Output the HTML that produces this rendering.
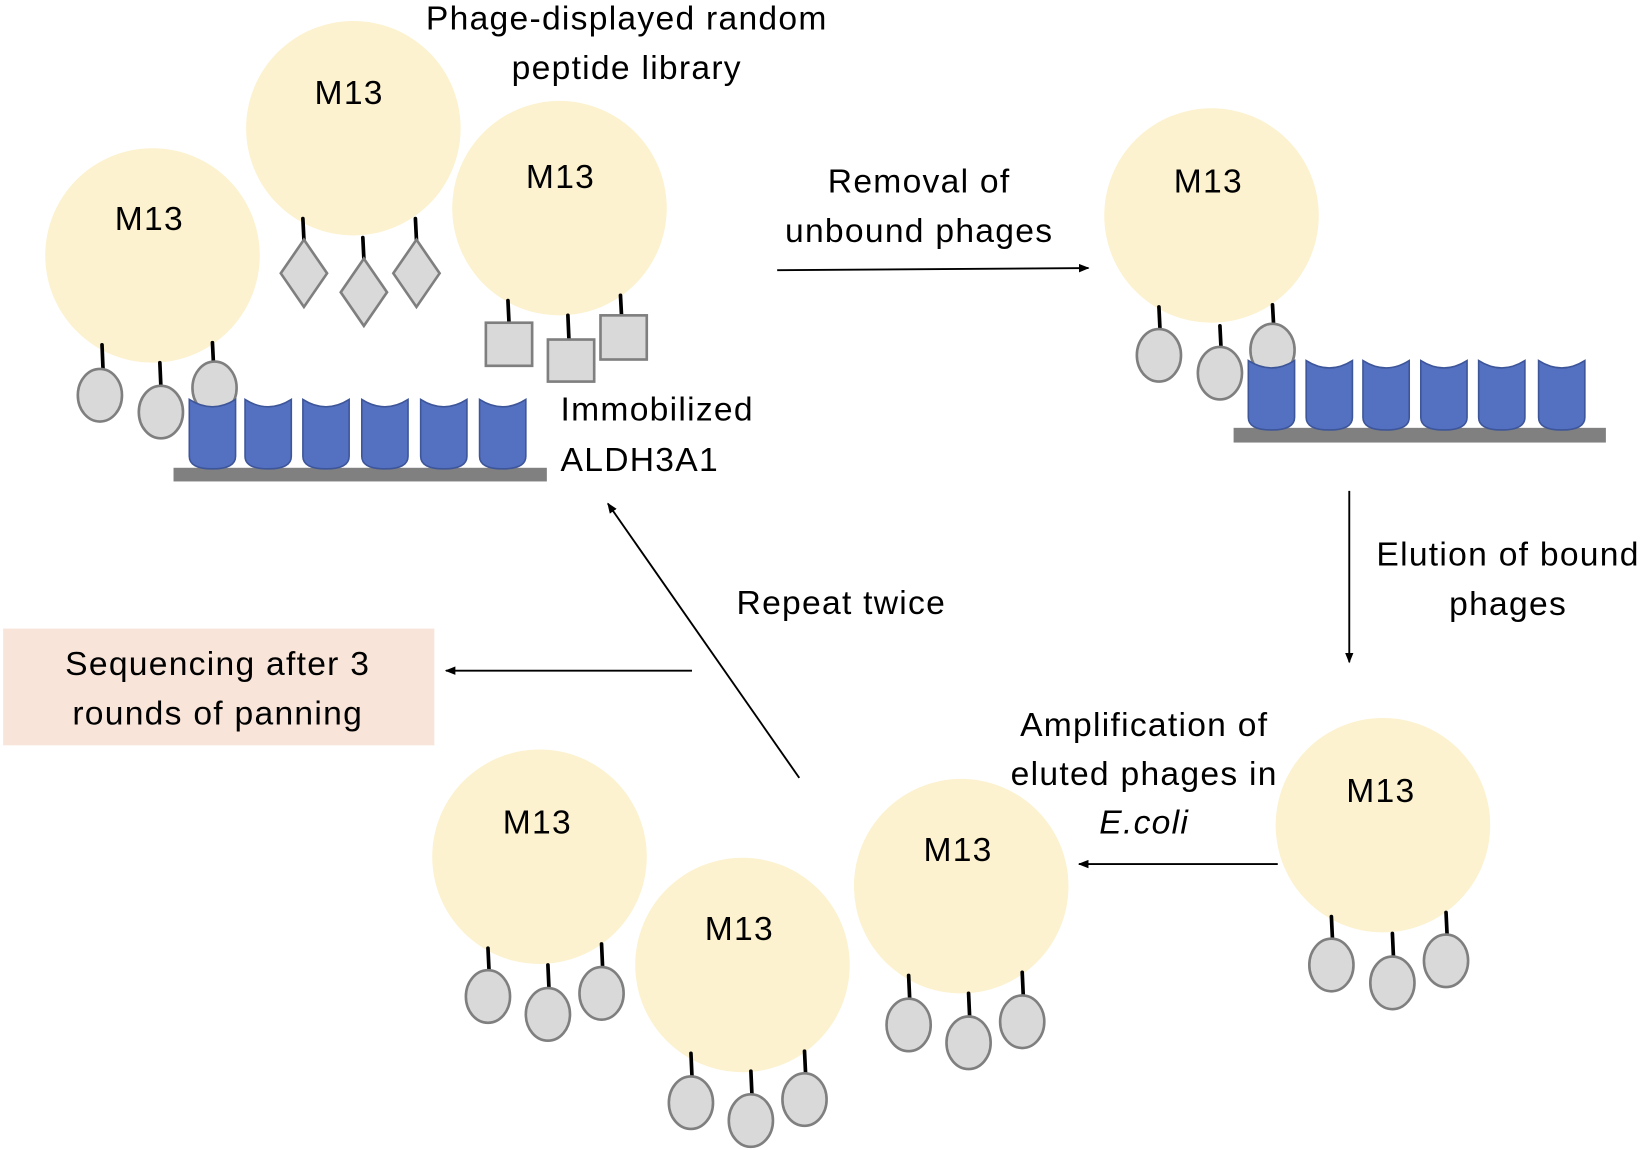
<!DOCTYPE html>
<html><head><meta charset="utf-8"><style>
html,body{margin:0;padding:0;background:#fff;}
svg{display:block}
text{font-family:"Liberation Sans",sans-serif;font-size:32px;letter-spacing:1.2px;fill:#000;text-anchor:middle}
</style></head><body>
<svg width="1649" height="1150" viewBox="0 0 1568 1094" preserveAspectRatio="none" xmlns="http://www.w3.org/2000/svg">
<defs>
<marker id="ar" markerWidth="10" markerHeight="8" refX="9" refY="4" orient="auto" markerUnits="userSpaceOnUse">
<path d="M0,0 L10,4 L0,8 Z" fill="#000"/></marker>
<symbol id="cup" overflow="visible"><path d="M0,0 Q22,14 44,0 L44,54 Q44,66 22,66 Q0,66 0,54 Z" fill="#5470c1" stroke="#3d5599" stroke-width="1.5"/></symbol>
</defs>
<g fill="#fcf2cf">
<circle cx="145" cy="243" r="102"/><circle cx="336" cy="122" r="102"/><circle cx="532" cy="198" r="102"/>
<circle cx="1152" cy="205" r="102"/><circle cx="1315" cy="785" r="102"/><circle cx="914" cy="843" r="102"/>
<circle cx="513" cy="815" r="102"/><circle cx="706" cy="918" r="102"/>
</g>
<text x="142" y="219">M13</text><text x="332" y="99">M13</text><text x="533" y="179">M13</text>
<text x="1149" y="183">M13</text><text x="1313" y="763">M13</text><text x="911" y="819">M13</text>
<text x="511" y="793">M13</text><text x="703" y="894">M13</text>
<g stroke="#000" stroke-width="3.5" stroke-linecap="round" fill="none">
<path d="M97,328 L98,352 M152,345 L153,368 M202,326 L203,346"/>
<path d="M288,208 L289,228 M345,226 L346,246 M395,208 L396,228"/>
<path d="M483,286 L484,307 M540,300 L541,323 M590,281 L591,300"/>
<path d="M1102,292 L1103,313 M1160,310 L1161,330 M1210,290 L1211,308"/>
<path d="M1266,872 L1267,893 M1324,888 L1325,910 M1375,868 L1376,889"/>
<path d="M864,928 L865,950 M921,945 L922,967 M972,925 L973,947"/>
<path d="M464,902 L465,923 M521,918 L522,940 M572,898 L573,920"/>
<path d="M657,1002 L658,1024 M714,1019 L715,1041 M765,1000 L766,1021"/>
</g>
<rect x="165" y="445" width="355" height="13" fill="#808080"/>
<rect x="1173" y="407" width="354" height="14" fill="#808080"/>
<g fill="#d9d9d9" stroke="#7f7f7f" stroke-width="2.5">
<ellipse cx="95" cy="376" rx="21" ry="25"/><ellipse cx="153" cy="392" rx="21" ry="25"/><ellipse cx="204" cy="369" rx="21" ry="25"/>
<ellipse cx="1102" cy="338" rx="21" ry="25"/><ellipse cx="1160" cy="355" rx="21" ry="25"/><ellipse cx="1210" cy="333" rx="21" ry="25"/>
<ellipse cx="1266" cy="918" rx="21" ry="25"/><ellipse cx="1324" cy="935" rx="21" ry="25"/><ellipse cx="1375" cy="914" rx="21" ry="25"/>
<ellipse cx="864" cy="975" rx="21" ry="25"/><ellipse cx="921" cy="992" rx="21" ry="25"/><ellipse cx="972" cy="972" rx="21" ry="25"/>
<ellipse cx="464" cy="948" rx="21" ry="25"/><ellipse cx="521" cy="965" rx="21" ry="25"/><ellipse cx="572" cy="945" rx="21" ry="25"/>
<ellipse cx="657" cy="1049" rx="21" ry="25"/><ellipse cx="714" cy="1066" rx="21" ry="25"/><ellipse cx="765" cy="1046" rx="21" ry="25"/>
<path d="M289,228 L311,260 L289,292 L267,260 Z"/><path d="M346,246 L368,278 L346,310 L324,278 Z"/><path d="M396,228 L418,260 L396,292 L374,260 Z"/>
<rect x="462" y="307" width="44" height="41"/><rect x="521" y="323" width="44" height="40"/><rect x="571" y="300" width="44" height="42"/>
</g>
<g>
<use href="#cup" x="180" y="380"/><use href="#cup" x="233" y="380"/><use href="#cup" x="288" y="380"/>
<use href="#cup" x="344" y="380"/><use href="#cup" x="400" y="380"/><use href="#cup" x="456" y="380"/>
<use href="#cup" x="1187" y="343"/><use href="#cup" x="1242" y="343"/><use href="#cup" x="1296" y="343"/>
<use href="#cup" x="1351" y="343"/><use href="#cup" x="1406" y="343"/><use href="#cup" x="1463" y="343"/>
</g>
<g stroke="#000" stroke-width="1.8" marker-end="url(#ar)">
<line x1="739" y1="257" x2="1035" y2="255"/>
<line x1="1283" y1="467" x2="1283" y2="630"/>
<line x1="1215" y1="822" x2="1026" y2="822"/>
<line x1="760" y1="740" x2="578" y2="479"/>
<line x1="658" y1="638" x2="424" y2="638"/>
</g>
<rect x="3" y="598" width="410" height="111" fill="#f8e4d8"/>
<text x="207" y="642">Sequencing after 3</text><text x="207" y="689">rounds of panning</text>
<text x="596" y="28">Phage-displayed random</text><text x="596" y="75">peptide library</text>
<text x="874" y="183">Removal of</text><text x="874" y="230">unbound phages</text>
<text x="533" y="400" style="text-anchor:start">Immobilized</text><text x="533" y="448" style="text-anchor:start">ALDH3A1</text>
<text x="1434" y="538">Elution of bound</text><text x="1434" y="585">phages</text>
<text x="1088" y="700">Amplification of</text><text x="1088" y="747">eluted phages in</text><text x="1088" y="793" font-style="italic">E.coli</text>
<text x="800" y="584">Repeat twice</text>
</svg>
</body></html>
